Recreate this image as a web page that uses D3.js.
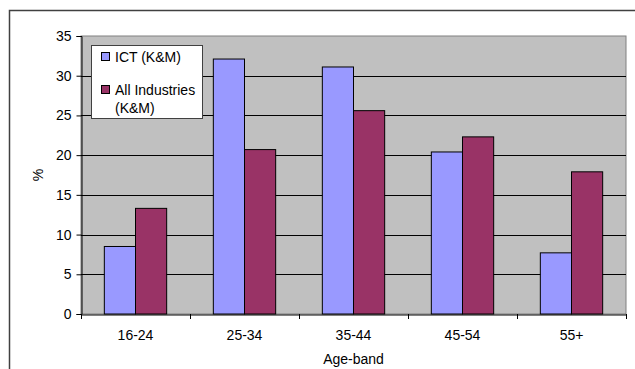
<!DOCTYPE html>
<html>
<head>
<meta charset="utf-8">
<script src="https://cdn.jsdelivr.net/npm/d3@7"></script>
<style>
  html, body { margin: 0; padding: 0; background: #ffffff; }
  svg { display: block; }
  text { font-family: "Liberation Sans", Arial, sans-serif; fill: #000; }
</style>
</head>
<body>
<svg id="chart" width="635" height="369"></svg>
<script>
// Age-band distribution of the workforce (%)
const ageBands = ["16-24", "25-34", "35-44", "45-54", "55+"];
const seriesNames = ["ICT (K&M)", "All Industries (K&M)"];
const ictValues = [8.5, 32.1, 31.1, 20.4, 7.7];
const allIndustriesValues = [13.3, 20.7, 25.6, 22.3, 17.9];
const yTicks = [0, 5, 10, 15, 20, 25, 30, 35];
const seriesColors = ["#9999FF", "#993366"];

const FONT = "14px";
const svg = d3.select("#chart");
const W = 635, H = 369;
const plot = { left: 81, top: 36, right: 626, bottom: 314 };

// outer chart frame (runs off the right and bottom edges)
svg.append("path")
  .attr("d", `M9.5,${H + 2} L9.5,10.5 L${W + 2},10.5`)
  .attr("fill", "none").attr("stroke", "#404040").attr("stroke-width", 1.5);

const x0 = d3.scaleBand().domain(ageBands).range([plot.left, plot.right]).paddingInner(0).paddingOuter(0);
const groupInner = 0.572; // share of the band used by the bar pair
const x1 = d3.scaleBand().domain(seriesNames)
  .range([0, x0.bandwidth() * groupInner]);
const y = d3.scaleLinear().domain([0, 35]).range([plot.bottom, plot.top]);

// plot background
svg.append("rect")
  .attr("x", plot.left).attr("y", plot.top)
  .attr("width", plot.right - plot.left).attr("height", plot.bottom - plot.top)
  .attr("fill", "#C0C0C0").attr("stroke", "#808080").attr("stroke-width", 1);

// horizontal gridlines
svg.append("g")
  .selectAll("line")
  .data(yTicks.filter(t => t > 0 && t < 35))
  .join("line")
  .attr("x1", plot.left).attr("x2", plot.right)
  .attr("y1", d => Math.round(y(d)) + 0.5).attr("y2", d => Math.round(y(d)) + 0.5)
  .attr("stroke", "#000").attr("stroke-width", 1);

// bars
const rows = ageBands.map((band, i) => ({ band, values: [ictValues[i], allIndustriesValues[i]] }));
const groupOffset = x0.bandwidth() * (1 - groupInner) / 2;
svg.append("g")
  .selectAll("g")
  .data(rows)
  .join("g")
  .attr("transform", d => `translate(${x0(d.band) + groupOffset},0)`)
  .selectAll("rect")
  .data(d => d.values.map((v, k) => ({ name: seriesNames[k], value: v, k })))
  .join("rect")
  .attr("x", d => x1(d.name))
  .attr("y", d => y(d.value))
  .attr("width", x1.bandwidth())
  .attr("height", d => y(0) - y(d.value))
  .attr("fill", d => seriesColors[d.k])
  .attr("stroke", "#000").attr("stroke-width", 1);

// y axis
const yAxis = d3.axisLeft(y).tickValues(yTicks).tickSize(5).tickPadding(5).tickFormat(d3.format("d"));
const gy = svg.append("g").attr("transform", `translate(${plot.left + 0.5},0)`).call(yAxis);
gy.select(".domain").attr("stroke", "#000");
gy.selectAll(".tick line").attr("stroke", "#000");
gy.selectAll(".tick text").attr("font-size", FONT).attr("font-family", "Liberation Sans, Arial, sans-serif");

// x axis
const xAxis = d3.axisBottom(x0).tickSize(0).tickPadding(16);
const gx = svg.append("g").attr("transform", `translate(0,${plot.bottom + 0.5})`).call(xAxis);
gx.select(".domain").attr("stroke", "#000");
gx.selectAll(".tick text").attr("font-size", FONT).attr("font-family", "Liberation Sans, Arial, sans-serif");
// category separators
svg.append("g")
  .selectAll("line")
  .data(ageBands.concat(["end"]))
  .join("line")
  .attr("x1", (d, i) => Math.round(plot.left + i * x0.bandwidth()) + 0.5)
  .attr("x2", (d, i) => Math.round(plot.left + i * x0.bandwidth()) + 0.5)
  .attr("y1", plot.bottom).attr("y2", plot.bottom + 5)
  .attr("stroke", "#000");

// axis titles
svg.append("text")
  .attr("x", (plot.left + plot.right) / 2).attr("y", 364)
  .attr("text-anchor", "middle").attr("font-size", FONT)
  .text("Age-band");
svg.append("text")
  .attr("transform", `translate(43,175) rotate(-90)`)
  .attr("text-anchor", "middle").attr("font-size", FONT)
  .text("%");

// legend
const legend = svg.append("g");
legend.append("rect")
  .attr("x", 91.5).attr("y", 45.5).attr("width", 111).attr("height", 73)
  .attr("fill", "#fff").attr("stroke", "#404040").attr("stroke-width", 1);
const legendItems = [
  { lines: ["ICT (K&M)"], y: 52 },
  { lines: ["All Industries", "(K&M)"], y: 85 }
];
legendItems.forEach((item, k) => {
  legend.append("rect")
    .attr("x", 101.5).attr("y", item.y + 0.5).attr("width", 8).attr("height", 8)
    .attr("fill", seriesColors[k]).attr("stroke", "#000").attr("stroke-width", 1);
  item.lines.forEach((ln, j) => {
    legend.append("text")
      .attr("x", 115).attr("y", item.y + 10 + j * 18)
      .attr("font-size", FONT)
      .text(ln);
  });
});
</script>
</body>
</html>
